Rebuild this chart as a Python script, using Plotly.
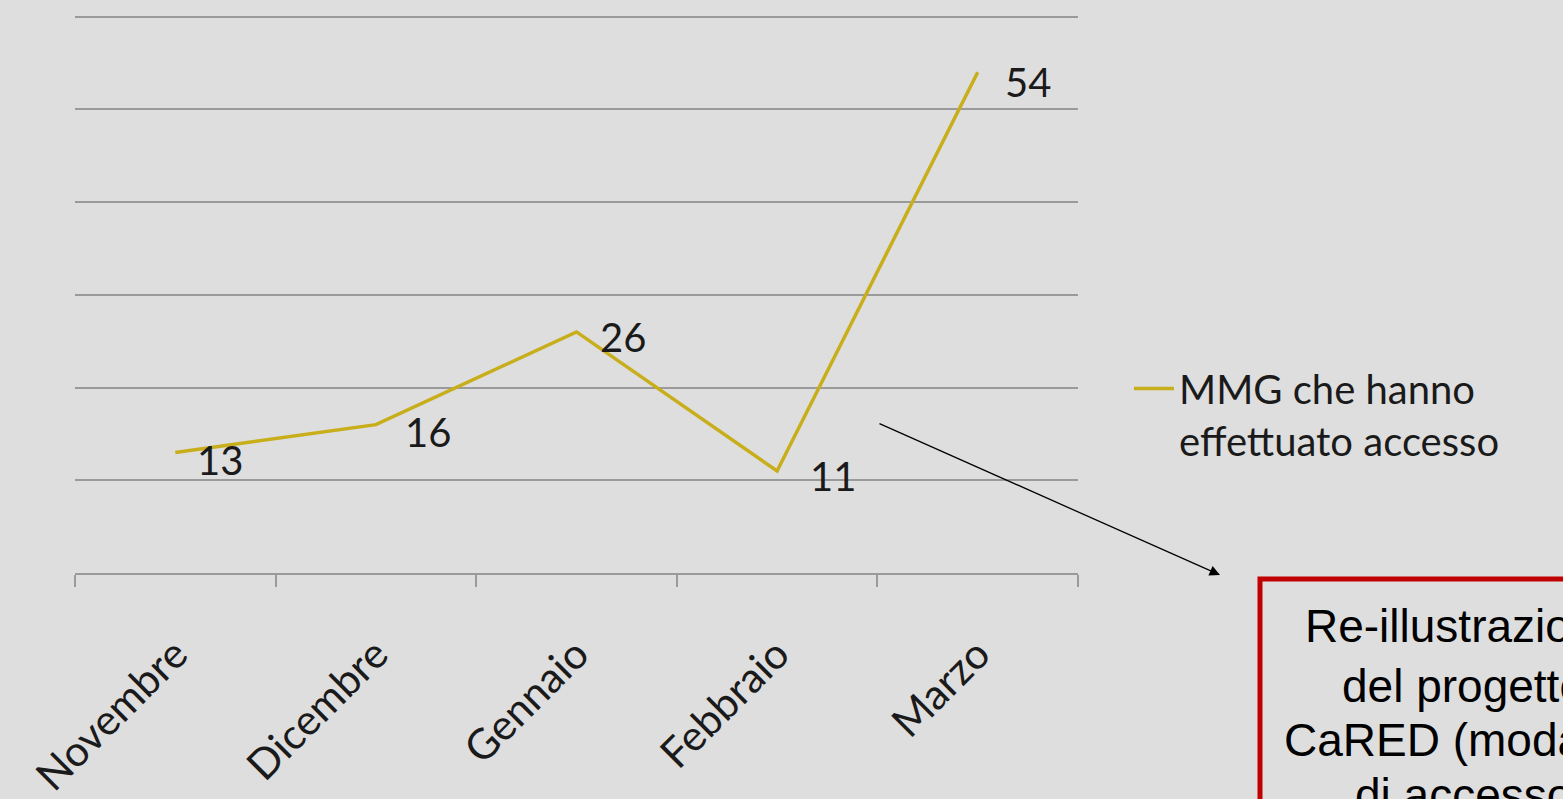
import plotly.graph_objects as go

# ---- data ----
months = ["Novembre", "Dicembre", "Gennaio", "Febbraio", "Marzo"]
accessi = [13, 16, 26, 11, 54]
series_name = "MMG che hanno<br>effettuato accesso"
label_offsets = [(20, -8), (27, -7), (21, -5), (31, -5), (25, -10)]  # (xshift, yshift) px
box_lines = ["Re-illustrazione", "del progetto", "CaRED (modalità", "di accesso"]
box_line_y = [626, 686, 740, 795]  # pixel centres of the box text lines

W, H = 1563, 799
L, R, T, B = 75, 1078, 12, 573


def px(x):
    return (x - L) / (R - L)


def py(y):
    return (B - y) / (B - T)


LINE_COLOR = "#C7AE1A"
BG = "#dedede"
FONT = "Lato"

fig = go.Figure()
fig.add_trace(go.Scatter(
    x=months, y=accessi, mode="lines", name=series_name,
    line=dict(color=LINE_COLOR, width=3.5), showlegend=True,
))

annotations = []
for m, v, (dx, dy) in zip(months, accessi, label_offsets):
    annotations.append(dict(
        x=m, y=v, xref="x", yref="y", text=str(v), showarrow=False,
        xanchor="left", yanchor="middle", xshift=dx, yshift=dy,
        font=dict(family=FONT, size=40, color="#1a1a1a"),
    ))

# arrow
annotations.append(dict(
    x=px(1220), y=py(575), xref="paper", yref="paper", text="",
    showarrow=True, ax=878 - 1220, ay=423 - 575, axref="pixel", ayref="pixel",
    arrowhead=2, arrowsize=1.6, arrowwidth=1.3, arrowcolor="#000000",
))

# red box text (one annotation per line)
for txt, yc in zip(box_lines, box_line_y):
    annotations.append(dict(
        x=px(1463), y=py(yc), xref="paper", yref="paper",
        text=txt, showarrow=False, align="center",
        xanchor="center", yanchor="middle",
        font=dict(family="Liberation Sans, Arial", size=46, color="#000000"),
    ))

fig.add_shape(type="rect", xref="paper", yref="paper",
              x0=px(1260), x1=px(1700), y0=py(900), y1=py(579),
              line=dict(color="#C00000", width=5), fillcolor="rgba(0,0,0,0)")

fig.update_layout(
    width=W, height=H,
    margin=dict(l=L, r=W - R, t=T, b=H - B, pad=0, autoexpand=False),
    paper_bgcolor=BG, plot_bgcolor=BG,
    font=dict(family=FONT, color="#1a1a1a"),
    showlegend=True,
    legend=dict(x=px(1129), y=py(356), xanchor="left", yanchor="top",
                bgcolor="rgba(0,0,0,0)", valign="top",
                font=dict(family=FONT, size=40, color="#1a1a1a"),
                itemwidth=40),
    annotations=annotations,
    xaxis=dict(
        type="category", range=[-0.5, 4.5], showgrid=False, automargin=False,
        showline=True, linecolor="#9a9a9a", linewidth=1.5,
        ticks="outside", tickson="boundaries", ticklen=12, tickcolor="#9a9a9a", tickwidth=1.5,
        tickangle=-45, ticklabelstandoff=38,
        tickfont=dict(family=FONT, size=42, color="#1a1a1a"),
        zeroline=False,
    ),
    yaxis=dict(
        range=[0, 60.5], tickvals=[10, 20, 30, 40, 50, 60], showgrid=True, automargin=False,
        gridcolor="#9a9a9a", gridwidth=1.5,
        showticklabels=False, zeroline=False, showline=False,
    ),
)

fig.write_html("out.html")
